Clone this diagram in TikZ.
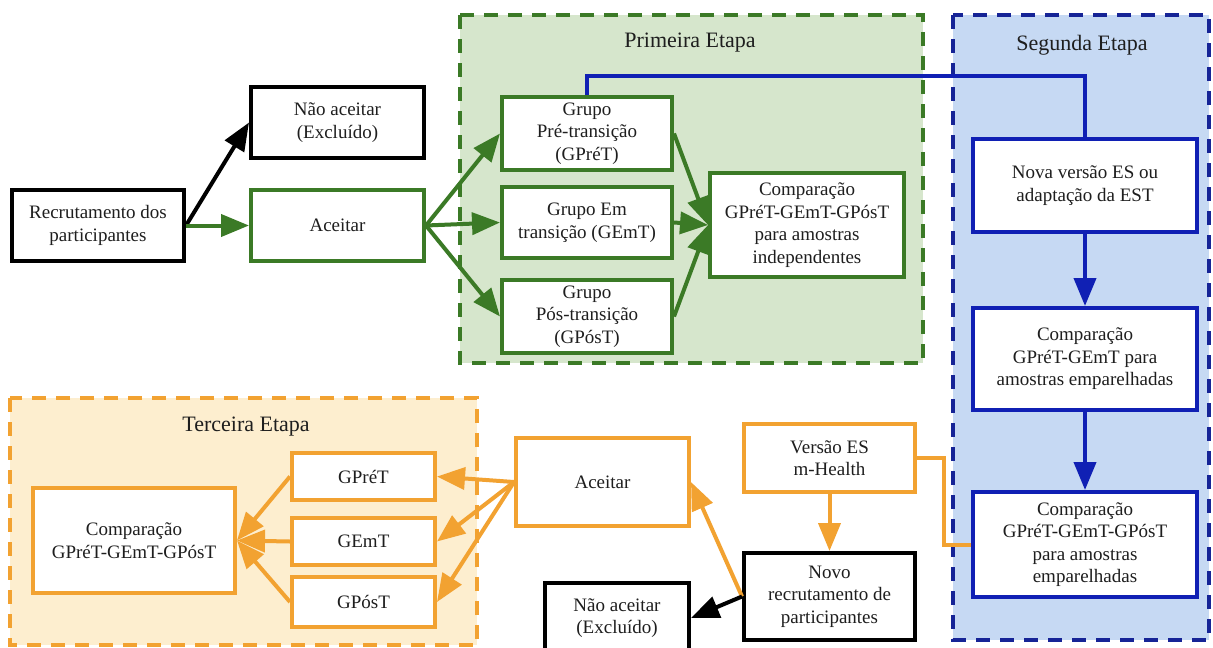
\documentclass[tikz,border=0pt]{standalone}
\usepackage{fontspec}
\setmainfont{Liberation Serif}
\usetikzlibrary{arrows.meta}
\definecolor{gstroke}{RGB}{59,122,38}
\definecolor{gfill}{RGB}{214,230,204}
\definecolor{bstroke}{RGB}{16,32,180}
\definecolor{bdash}{RGB}{22,36,150}
\definecolor{bfill}{RGB}{198,217,243}
\definecolor{ostroke}{RGB}{242,162,49}
\definecolor{ofill}{RGB}{253,238,207}
\definecolor{txt}{RGB}{30,30,30}
\begin{document}
\begin{tikzpicture}[x=1pt,y=-1pt,
  box/.style={draw, line width=4pt, fill=white, align=center, inner sep=2pt,
    font=\fontsize{19}{22.5}\selectfont, text=txt},
  title/.style={font=\fontsize{22}{26}\selectfont, text=txt},
  region/.style={line width=4.5pt, dash pattern=on 14pt off 10pt},
  arr/.style={line width=4pt, -{Triangle[length=28pt,width=22pt]}},
  plain/.style={line width=4pt},
  bw/.style={minimum width=173pt, minimum height=71pt}
]
\useasboundingbox (0,0) rectangle (1213,648);
\clip (0,0) rectangle (1213,648);

% regions
\draw[region, draw=gstroke, fill=gfill] (460,15) rectangle (923,363);
\draw[region, draw=bdash, fill=bfill] (953,15) rectangle (1209,640);
\draw[region, draw=ostroke, fill=ofill] (10,398) rectangle (477,645);

\node[title] (t1) at (690,43) {Primeira Etapa};
\node[title] (t2) at (1082,45) {Segunda Etapa};
\node[title] (t3) at (246,427) {Terceira Etapa};

% top-left
\node[box, draw=black, minimum width=172pt, minimum height=71pt] (rec) at (98,225.5) {Recrutamento dos\\participantes};
\node[box, draw=black, bw] (nao1) at (337.5,122.5) {Não aceitar\\(Excluído)};
\node[box, draw=gstroke, bw] (acc1) at (337.5,225.5) {Aceitar};

% first stage
\node[box, draw=gstroke, minimum width=170pt, minimum height=73pt] (pre) at (587,133.5) {Grupo\\Pré-transição\\(GPréT)};
\node[box, draw=gstroke, minimum width=170pt, minimum height=71pt] (em) at (587,222.5) {Grupo Em\\transição (GEmT)};
\node[box, draw=gstroke, minimum width=170pt, minimum height=73pt] (pos) at (587,316.5) {Grupo\\Pós-transição\\(GPósT)};
\node[box, draw=gstroke, minimum width=194pt, minimum height=104pt] (comp1) at (807,225) {Comparação\\GPréT-GEmT-GPósT\\para amostras\\independentes};

% second stage
\node[box, draw=bstroke, minimum width=224pt, minimum height=93pt] (nova) at (1085,185.5) {Nova versão ES ou\\adaptação da EST};
\node[box, draw=bstroke, minimum width=224pt, minimum height=102pt] (comp2) at (1085,359) {Comparação\\GPréT-GEmT para\\amostras emparelhadas};
\node[box, draw=bstroke, minimum width=224pt, minimum height=105pt] (comp3) at (1085,544.5) {Comparação\\GPréT-GEmT-GPósT\\para amostras\\emparelhadas};

% third stage
\node[box, draw=ostroke, minimum width=143pt, minimum height=47pt] (gpre) at (363.5,476.5) {GPréT};
\node[box, draw=ostroke, minimum width=143pt, minimum height=47pt] (gem) at (363.5,541.5) {GEmT};
\node[box, draw=ostroke, minimum width=143pt, minimum height=50pt] (gpos) at (363.5,602) {GPósT};
\node[box, draw=ostroke, minimum width=202pt, minimum height=105pt] (comp4) at (134,540.5) {Comparação\\GPréT-GEmT-GPósT};

\node[box, draw=ostroke, minimum width=173pt, minimum height=88pt] (acc2) at (602.5,482) {Aceitar};
\node[box, draw=ostroke, minimum width=171pt, minimum height=68pt] (versao) at (829.5,458) {Versão ES\\m-Health};
\node[box, draw=black, minimum width=171pt, minimum height=87pt] (novo) at (829.5,596.5) {Novo\\recrutamento de\\participantes};
\node[box, draw=black, minimum width=144pt, minimum height=70pt] (nao2) at (617,618) {Não aceitar\\(Excluído)};

% connectors top
\draw[arr, black] (rec.east) -- (nao1.west);
\draw[arr, gstroke] (rec.east) -- (acc1.west);
\draw[arr, gstroke] (acc1.east) -- (pre.west);
\draw[arr, gstroke] (acc1.east) -- (em.west);
\draw[arr, gstroke] (acc1.east) -- (pos.west);
\draw[arr, gstroke] (pre.east) -- (comp1.west);
\draw[arr, gstroke] (em.east) -- (comp1.west);
\draw[arr, gstroke] (pos.east) -- (comp1.west);

\coordinate (bl) at (587,76);
\draw[plain, bstroke] (pre.north) -- (bl) -| (nova.north);
\draw[arr, bstroke] (nova.south) -- (comp2.north);
\draw[arr, bstroke] (comp2.south) -- (comp3.north);

% connectors bottom
\coordinate (oc) at (944,544.5);
\draw[plain, ostroke] (versao.east) -| (oc) -- (comp3.west);
\draw[arr, ostroke] (versao.south) -- (novo.north);
\draw[arr, ostroke] (novo.west) -- (acc2.east);
\draw[arr, black] (novo.west) -- (nao2.east);
\draw[arr, ostroke] (acc2.west) -- (gpre.east);
\draw[arr, ostroke] (acc2.west) -- (gem.east);
\draw[arr, ostroke] (acc2.west) -- (gpos.east);
\draw[arr, ostroke] (gpre.west) -- (comp4.east);
\draw[arr, ostroke] (gem.west) -- (comp4.east);
\draw[arr, ostroke] (gpos.west) -- (comp4.east);
\end{tikzpicture}
\end{document}
